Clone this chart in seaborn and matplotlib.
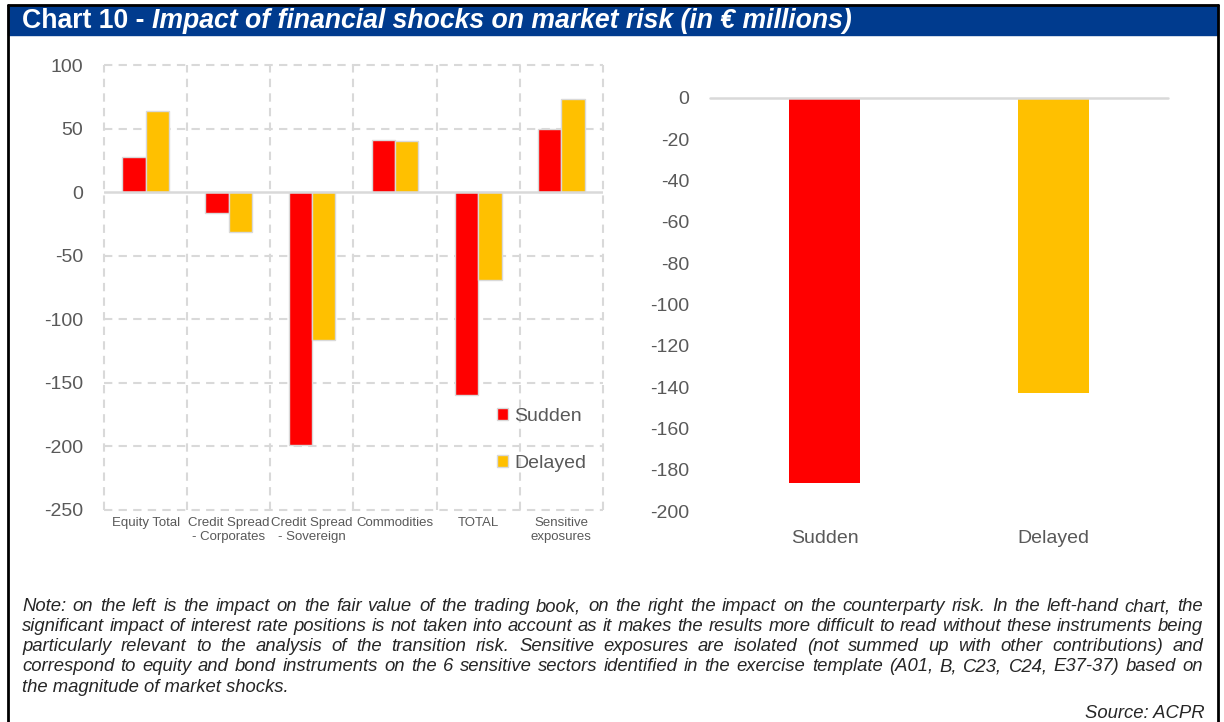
import numpy as np
import pandas as pd
import matplotlib.pyplot as plt
import seaborn as sns
from matplotlib.patches import Rectangle
from matplotlib.lines import Line2D

# data
categories = ['Equity Total', 'Credit Spread\n- Corporates', 'Credit Spread\n- Sovereign',
              'Commodities', 'TOTAL', 'Sensitive\nexposures']
sudden = [28, -16.5, -198.5, 41, -159.5, 49.5]
delayed = [63.5, -31.5, -116, 40.5, -69, 73]

cp_scenarios = ['Sudden', 'Delayed']
cp_values = [-186.5, -143]

title_bold = 'Chart 10 - '
title_italic = 'Impact of financial shocks on market risk (in € millions)'
note_lines = [
    'Note: on the left is the impact on the fair value of the trading book, on the right the impact on the counterparty risk. In the left-hand chart, the',
    'significant impact of interest rate positions is not taken into account as it makes the results more difficult to read without these instruments being',
    'particularly relevant to the analysis of the transition risk. Sensitive exposures are isolated (not summed up with other contributions) and',
    'correspond to equity and bond instruments on the 6 sensitive sectors identified in the exercise template (A01, B, C23, C24, E37-37) based on',
    'the magnitude of market shocks.',
]
source = 'Source: ACPR'

palette = {'Sudden': '#FF0000', 'Delayed': '#FFC000'}
grey_txt = '#595959'
grid_c = '#D9D9D9'

sns.set_style('white')
plt.rcParams['font.family'] = ['Liberation Sans', 'DejaVu Sans']
plt.rcParams['axes.unicode_minus'] = False

W, H = 1224, 722
fig = plt.figure(figsize=(W / 100, H / 100), dpi=100)


def fx(px):
    return px / W


def fy(py):
    return 1 - py / H


# frame and title band
fig.patches.append(Rectangle((fx(8), fy(35)), fx(1218) - fx(8), fy(5) - fy(35),
                             transform=fig.transFigure, color='#003B8E', zorder=0))
for xs, ys in [([8, 8], [5, 722]), ([1218, 1218], [5, 722]), ([8, 1218], [5, 5])]:
    fig.lines.append(Line2D([fx(v) for v in xs], [fy(v) for v in ys],
                            transform=fig.transFigure, color='black', lw=2))

# ---- left chart: trading book
df = pd.DataFrame({
    'category': categories * 2,
    'scenario': ['Sudden'] * len(categories) + ['Delayed'] * len(categories),
    'value': sudden + delayed,
})
ax1 = fig.add_axes([fx(104), fy(510), fx(603) - fx(104), fy(65) - fy(510)])
sns.barplot(data=df, x='category', y='value', hue='scenario', palette=palette,
            saturation=1, width=0.56, edgecolor=grid_c, linewidth=1, ax=ax1, zorder=3)
ax1.set_ylim(-250, 100)
ax1.set_xlim(-0.5, len(categories) - 0.5)
ax1.set_yticks(np.arange(-250, 101, 50))
for y in np.arange(-250, 101, 50):
    if y != 0:
        ax1.axhline(y, color=grid_c, lw=1.5, ls=(0, (4, 3)), zorder=1, clip_on=False)
for x in np.arange(-0.5, len(categories), 1):
    ax1.axvline(x, color=grid_c, lw=1.5, ls=(0, (4, 3)), zorder=1, clip_on=False)
ax1.axhline(0, color=grid_c, lw=1.8, zorder=4)
for s in ax1.spines.values():
    s.set_visible(False)
ax1.set_xlabel('')
ax1.set_ylabel('')
ax1.tick_params(axis='y', length=0, pad=15, labelsize=14, labelcolor=grey_txt)
ax1.tick_params(axis='x', length=0, pad=5, labelsize=9.5, labelcolor=grey_txt)
handles, labels = ax1.get_legend_handles_labels()
ax1.get_legend().remove()
fig.legend(handles, labels, loc='center left', bbox_to_anchor=(fx(487), fy(440)),
           frameon=False, fontsize=14, labelcolor=grey_txt, borderpad=0,
           handlelength=0.6, handleheight=0.6, handletextpad=0.3, labelspacing=1.55)

# ---- right chart: counterparty risk
df2 = pd.DataFrame({'scenario': cp_scenarios, 'value': cp_values})
ax2 = fig.add_axes([fx(710), fy(511), fx(1168) - fx(710), fy(98) - fy(511)])
sns.barplot(data=df2, x='scenario', y='value', hue='scenario', palette=palette,
            saturation=1, width=0.31, linewidth=0, legend=False, ax=ax2, zorder=3)
ax2.set_ylim(-200, 0)
ax2.set_yticks(np.arange(-200, 1, 20))
ax2.axhline(0, color=grid_c, lw=1.8, zorder=4, clip_on=False)
for s in ax2.spines.values():
    s.set_visible(False)
ax2.set_xlabel('')
ax2.set_ylabel('')
ax2.tick_params(axis='y', length=0, pad=15, labelsize=14, labelcolor=grey_txt)
ax2.tick_params(axis='x', length=0, pad=14, labelsize=14, labelcolor=grey_txt)

# ---- title (bold + bold italic)
fig.canvas.draw()
r = fig.canvas.get_renderer()
t1 = fig.text(fx(22), fy(28), title_bold, color='white', fontsize=19.2,
              fontweight='bold', va='baseline', ha='left')
bb = t1.get_window_extent(renderer=r)
fig.text(bb.x1 / W, fy(28), title_italic, color='white', fontsize=19.2,
         fontweight='bold', style='italic', va='baseline', ha='left')

# ---- note, justified between x=22 and x=1203
left, right = 22, 1203
note_base = [611, 631, 651, 671, 692]
note_fs = 13.3
for i, (line, y) in enumerate(zip(note_lines, note_base)):
    if i == len(note_lines) - 1:
        fig.text(fx(left), fy(y), line, fontsize=note_fs, style='italic',
                 va='baseline', ha='left')
        continue
    words = line.split(' ')
    texts = [fig.text(0, fy(y), w, fontsize=note_fs, style='italic', va='baseline', ha='left')
             for w in words]
    widths = [t.get_window_extent(renderer=r).width for t in texts]
    gap = (right - left - sum(widths)) / (len(words) - 1)
    x = left
    for t, w in zip(texts, widths):
        t.set_x(fx(x))
        x += w + gap

fig.text(fx(1205), fy(718), source, fontsize=note_fs, style='italic', va='baseline', ha='right')

fig.savefig('out.png', dpi=100)
